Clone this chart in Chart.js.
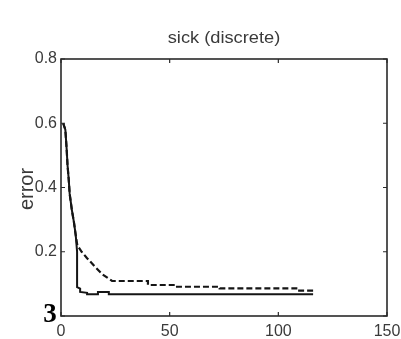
<!DOCTYPE html>
<html>
<head>
<meta charset="utf-8">
<script src="https://cdn.jsdelivr.net/npm/chart.js@4.4.1/dist/chart.umd.min.js"></script>
<style>
html,body{margin:0;padding:0;background:#fff;}
#wrap{width:401px;height:339px;}
</style>
</head>
<body>
<div id="wrap"><canvas id="c" width="401" height="339"></canvas></div>
<script>
// ---- data ----
const chartTitle = 'sick (discrete)';
const yAxisTitle = 'error';
const cornerMark = '3';
const xTicks = [0, 50, 100, 150];
const yTicks = [0, 0.2, 0.4, 0.6, 0.8];
const yTickLabels = ['', '0.2', '0.4', '0.6', '0.8'];

const solidX = [1, 2, 2.6, 3, 3.5, 4, 5, 6, 6.8, 7.4, 7.4, 8.8, 8.8, 12, 12, 17, 17, 22, 22, 116];
const solidY = [0.60, 0.58, 0.52, 0.47, 0.43, 0.38, 0.33, 0.29, 0.25, 0.20, 0.09, 0.085, 0.075, 0.072, 0.068, 0.068, 0.075, 0.075, 0.068, 0.068];

const dashedX = [1, 2, 2.6, 3, 3.5, 4, 5, 6, 6.8, 7.5, 9.5, 12, 15.7, 19, 23.5, 40, 40, 52.5, 52.5, 73, 73, 109, 109, 116];
const dashedY = [0.60, 0.58, 0.52, 0.47, 0.43, 0.38, 0.33, 0.29, 0.25, 0.22, 0.20, 0.18, 0.153, 0.13, 0.109, 0.109, 0.0965, 0.0965, 0.091, 0.091, 0.086, 0.086, 0.079, 0.079];

const toPts = (xs, ys) => xs.map((x, i) => ({x: x, y: ys[i]}));

const FONT = "'Liberation Sans', Arial, sans-serif";
const TXT = '#3a3a3a';

const decor = {
  id: 'decor',
  afterDraw(chart) {
    const ctx = chart.ctx;
    const a = chart.chartArea;
    const xs = chart.scales.x, ys = chart.scales.y;
    ctx.save();
    // box
    ctx.strokeStyle = '#2a2a2a';
    ctx.lineWidth = 1.6;
    ctx.strokeRect(a.left, a.top, a.right - a.left, a.bottom - a.top);
    // inward ticks
    ctx.lineWidth = 1.2;
    ctx.beginPath();
    xTicks.forEach(v => {
      const px = xs.getPixelForValue(v);
      ctx.moveTo(px, a.bottom); ctx.lineTo(px, a.bottom - 4);
      ctx.moveTo(px, a.top); ctx.lineTo(px, a.top + 4);
    });
    yTicks.forEach(v => {
      const py = ys.getPixelForValue(v);
      ctx.moveTo(a.left, py); ctx.lineTo(a.left + 4, py);
      ctx.moveTo(a.right, py); ctx.lineTo(a.right - 4, py);
    });
    ctx.stroke();
    // title
    ctx.fillStyle = TXT;
    ctx.textAlign = 'center';
    ctx.textBaseline = 'middle';
    ctx.save();
    ctx.translate((a.left + a.right) / 2, 39);
    ctx.scale(1.14, 1);
    ctx.font = '16px ' + FONT;
    ctx.fillText(chartTitle, 0, 0);
    ctx.restore();
    // y axis title
    ctx.save();
    ctx.translate(27, 189);
    ctx.rotate(-Math.PI / 2);
    ctx.font = '20px ' + FONT;
    ctx.fillText(yAxisTitle, 0, 0);
    ctx.restore();
    // corner mark
    ctx.fillStyle = '#000';
    ctx.font = 'bold 27px "Liberation Serif", "Times New Roman", serif';
    ctx.textAlign = 'center';
    ctx.textBaseline = 'alphabetic';
    ctx.fillText(cornerMark, 50, 322);
    ctx.restore();
  }
};

new Chart(document.getElementById('c'), {
  type: 'line',
  data: {
    datasets: [
      {
        label: 'solid',
        data: toPts(solidX, solidY),
        borderColor: '#151515',
        borderWidth: 2,
        pointRadius: 0,
        fill: false,
        tension: 0
      },
      {
        label: 'dashed',
        data: toPts(dashedX, dashedY),
        borderColor: '#151515',
        borderWidth: 2.2,
        borderDash: [6, 3],
        pointRadius: 0,
        fill: false,
        tension: 0
      }
    ]
  },
  options: {
    responsive: false,
    animation: false,
    devicePixelRatio: 1,
    layout: { padding: { left: 0, right: 14, top: 59, bottom: 0 } },
    plugins: { legend: { display: false }, tooltip: { enabled: false }, title: { display: false } },
    scales: {
      x: {
        type: 'linear',
        min: 0, max: 150,
        afterBuildTicks: s => { s.ticks = xTicks.map(v => ({value: v})); },
        afterFit: s => { s.height = 23; s.paddingLeft = 0; s.paddingRight = 0; },
        grid: { display: false, drawTicks: false },
        border: { display: false },
        ticks: { padding: 6, color: TXT, font: { family: FONT, size: 16 }, maxRotation: 0, autoSkip: false }
      },
      y: {
        type: 'linear',
        min: 0, max: 0.8,
        afterBuildTicks: s => { s.ticks = yTicks.map(v => ({value: v})); },
        afterFit: s => { s.width = 61; s.paddingTop = 0; s.paddingBottom = 0; },
        grid: { display: false, drawTicks: false },
        border: { display: false },
        ticks: {
          padding: 4, color: TXT, font: { family: FONT, size: 16 }, autoSkip: false,
          callback: (v) => { const i = yTicks.indexOf(v); return i >= 0 ? yTickLabels[i] : ''; }
        }
      }
    }
  },
  plugins: [decor]
});
</script>
</body>
</html>
